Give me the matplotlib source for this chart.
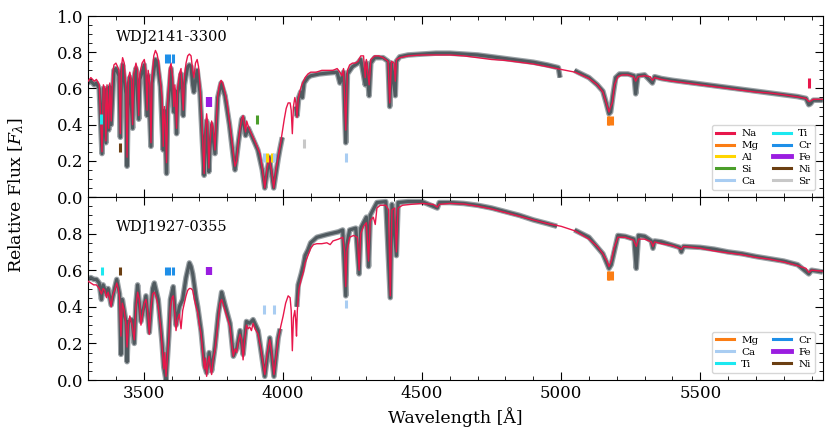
import numpy as np
import matplotlib
matplotlib.use("Agg")
import matplotlib.pyplot as plt
from matplotlib.lines import Line2D
from matplotlib.ticker import MultipleLocator

plt.rcParams['font.family'] = ['DejaVu Serif']
plt.rcParams['mathtext.fontset'] = 'dejavuserif'

nan = np.nan

wd2141_model = [
    (3300, 0.64), (3310, 0.66), (3322, 0.64), (3330, 0.65), (3340, 0.62), (3350, 0.25), (3355, 0.62),
    (3360, 0.60), (3364, 0.31), (3368, 0.62), (3374, 0.38), (3378, 0.63), (3383, 0.42), (3388, 0.68),
    (3393, 0.73), (3400, 0.74), (3406, 0.72), (3411, 0.70), (3416, 0.35), (3420, 0.72), (3424, 0.77),
    (3430, 0.74), (3436, 0.60), (3440, 0.22), (3445, 0.66), (3450, 0.69), (3456, 0.64), (3460, 0.40),
    (3464, 0.68), (3472, 0.74), (3478, 0.70), (3482, 0.45), (3486, 0.68), (3494, 0.74), (3502, 0.76),
    (3508, 0.70), (3512, 0.48), (3516, 0.70), (3522, 0.62), (3526, 0.30), (3530, 0.66), (3536, 0.78),
    (3542, 0.81), (3548, 0.79), (3554, 0.74), (3560, 0.64), (3566, 0.55), (3570, 0.28), (3574, 0.50),
    (3578, 0.40), (3582, 0.19), (3586, 0.52), (3592, 0.70), (3598, 0.74), (3604, 0.66), (3608, 0.50),
    (3612, 0.62), (3618, 0.38), (3622, 0.60), (3628, 0.68), (3634, 0.71), (3638, 0.58), (3642, 0.48),
    (3646, 0.66), (3652, 0.74), (3658, 0.78), (3664, 0.79), (3670, 0.78), (3676, 0.70), (3680, 0.66),
    (3686, 0.74), (3692, 0.76), (3697, 0.72), (3702, 0.62), (3707, 0.48), (3712, 0.30), (3717, 0.13),
    (3721, 0.36), (3726, 0.46), (3730, 0.40), (3734, 0.16), (3738, 0.30), (3744, 0.42), (3750, 0.38),
    (3756, 0.26), (3760, 0.40), (3766, 0.56), (3772, 0.62), (3778, 0.645), (3784, 0.63), (3792, 0.58),
    (3800, 0.52), (3808, 0.42), (3816, 0.32), (3822, 0.24), (3828, 0.17), (3834, 0.20), (3840, 0.30),
    (3846, 0.38), (3852, 0.43), (3857, 0.45), (3862, 0.40), (3866, 0.36), (3870, 0.42), (3876, 0.39),
    (3884, 0.36), (3893, 0.33), (3902, 0.30), (3910, 0.27), (3918, 0.24), (3926, 0.16), (3935, 0.05),
    (3943, 0.16), (3951, 0.215), (3959, 0.15), (3967, 0.05), (3975, 0.15), (3983, 0.22), (3990, 0.28),
    (3997, 0.35), (4005, 0.43), (4012, 0.49), (4019, 0.52), (4026, 0.52), (4030, 0.48), (4034, 0.35),
    (4038, 0.50), (4043, 0.55), (4047, 0.52), (4051, 0.44), (4055, 0.54), (4062, 0.59), (4068, 0.62),
    (4074, 0.64), (4080, 0.66), (4090, 0.68), (4100, 0.69), (4120, 0.69), (4140, 0.70), (4160, 0.70),
    (4180, 0.70), (4195, 0.71), (4205, 0.69), (4212, 0.67), (4218, 0.71), (4226, 0.37), (4232, 0.70),
    (4240, 0.73), (4250, 0.74), (4260, 0.74), (4270, 0.75), (4280, 0.78), (4290, 0.78), (4296, 0.66),
    (4300, 0.76), (4310, 0.62), (4316, 0.76), (4330, 0.78), (4345, 0.78), (4360, 0.77), (4378, 0.75),
    (4384, 0.52), (4390, 0.75), (4400, 0.74), (4404, 0.64), (4408, 0.76), (4420, 0.77), (4450, 0.78),
    (4500, 0.785), (4550, 0.785), (4600, 0.785), (4650, 0.78), (4700, 0.77), (4750, 0.76), (4800, 0.755),
    (4850, 0.745), (4900, 0.735), (4950, 0.72), (5000, 0.705), (5050, 0.69), (5100, 0.655), (5130, 0.62),
    (5150, 0.58), (5162, 0.52), (5172, 0.47), (5178, 0.50), (5184, 0.52), (5192, 0.62), (5204, 0.665),
    (5220, 0.675), (5240, 0.675), (5260, 0.665), (5268, 0.64), (5276, 0.665), (5300, 0.67), (5320, 0.665),
    (5328, 0.645), (5336, 0.66), (5360, 0.65), (5400, 0.64), (5450, 0.63), (5500, 0.62), (5550, 0.61),
    (5600, 0.60), (5650, 0.59), (5700, 0.58), (5750, 0.575), (5800, 0.565), (5850, 0.553), (5880, 0.545),
    (5890, 0.528), (5896, 0.53), (5906, 0.54), (5940, 0.54),
]
wd2141_obs = [
    (3300, 0.63), (3310, 0.64), (3322, 0.62), (3330, 0.63), (3340, 0.60), (3350, 0.24), (3355, 0.60),
    (3364, 0.30), (3368, 0.60), (3374, 0.37), (3378, 0.61), (3383, 0.40), (3393, 0.70), (3400, 0.71),
    (3411, 0.67), (3416, 0.33), (3420, 0.69), (3424, 0.73), (3436, 0.57), (3440, 0.17), (3445, 0.63),
    (3450, 0.66), (3460, 0.38), (3464, 0.65), (3472, 0.71), (3482, 0.43), (3486, 0.65), (3502, 0.73),
    (3512, 0.45), (3516, 0.67), (3526, 0.28), (3530, 0.63), (3542, 0.76), (3548, 0.75), (3560, 0.61),
    (3570, 0.26), (3574, 0.48), (3582, 0.13), (3586, 0.49), (3598, 0.71), (3608, 0.47), (3612, 0.59),
    (3618, 0.35), (3622, 0.57), (3634, 0.68), (3642, 0.45), (3646, 0.62), (3658, 0.72), (3664, 0.73),
    (3670, 0.72), (3676, 0.62), (3680, 0.58), (3692, 0.70), (3702, 0.58), (3712, 0.28), (3717, 0.12),
    (3721, 0.33), (3726, 0.42), (3734, 0.14), (3738, 0.27), (3744, 0.40), (3756, 0.24), (3766, 0.55),
    (3778, 0.63), (3792, 0.56), (3808, 0.40), (3822, 0.22), (3828, 0.15), (3840, 0.30), (3852, 0.43),
    (3857, 0.44), (3866, 0.34), (3876, 0.38), (3893, 0.32), (3910, 0.26), (3926, 0.15), (3935, 0.05),
    (3951, 0.22), (3967, 0.05), (3983, 0.21), (3990, 0.27), (3998, 0.33), (4000, nan), (4046, 0.50),
    (4051, 0.45), (4057, 0.55), (4064, 0.58), (4070, 0.55), (4076, 0.63), (4090, 0.66), (4100, 0.67),
    (4130, 0.68), (4160, 0.685), (4195, 0.69), (4205, 0.63), (4212, 0.66), (4218, 0.69), (4226, 0.30),
    (4232, 0.68), (4250, 0.72), (4270, 0.74), (4280, 0.76), (4296, 0.62), (4300, 0.74), (4310, 0.56),
    (4316, 0.74), (4330, 0.77), (4360, 0.77), (4378, 0.75), (4384, 0.50), (4390, 0.74), (4404, 0.56),
    (4408, 0.75), (4420, 0.775), (4450, 0.785), (4500, 0.79), (4550, 0.795), (4600, 0.795), (4650, 0.79),
    (4700, 0.785), (4750, 0.775), (4800, 0.765), (4850, 0.755), (4900, 0.745), (4950, 0.73), (4990, 0.715),
    (4996, 0.66), (4998, nan), (5048, 0.70), (5060, 0.69), (5100, 0.66), (5130, 0.62), (5150, 0.585),
    (5162, 0.52), (5172, 0.46), (5178, 0.47), (5186, 0.56), (5196, 0.66), (5210, 0.68), (5240, 0.68),
    (5262, 0.67), (5268, 0.57), (5276, 0.67), (5300, 0.675), (5328, 0.63), (5336, 0.665), (5360, 0.655),
    (5400, 0.645), (5450, 0.635), (5500, 0.625), (5550, 0.615), (5600, 0.605), (5650, 0.595), (5700, 0.585),
    (5750, 0.575), (5800, 0.565), (5850, 0.555), (5880, 0.545), (5890, 0.51), (5896, 0.515), (5906, 0.535),
    (5940, 0.535),
]

# ---- WDJ1927-0355
wd1927_model = [
    (3300, 0.54), (3310, 0.53), (3320, 0.52), (3330, 0.52), (3340, 0.50), (3348, 0.47), (3354, 0.50),
    (3360, 0.49), (3366, 0.45), (3372, 0.48), (3378, 0.44), (3383, 0.40), (3388, 0.46), (3395, 0.49),
    (3403, 0.53), (3408, 0.50), (3413, 0.45), (3418, 0.24), (3423, 0.42), (3430, 0.38), (3436, 0.30),
    (3440, 0.18), (3445, 0.30), (3450, 0.35), (3458, 0.30), (3466, 0.22), (3472, 0.40), (3478, 0.48),
    (3484, 0.44), (3490, 0.30), (3496, 0.36), (3502, 0.42), (3508, 0.44), (3514, 0.38), (3520, 0.25),
    (3526, 0.40), (3532, 0.47), (3538, 0.48), (3545, 0.45), (3552, 0.40), (3560, 0.30), (3566, 0.18),
    (3572, 0.06), (3576, 0.15), (3580, 0.02), (3585, 0.12), (3590, 0.22), (3596, 0.40), (3602, 0.45),
    (3606, 0.46), (3611, 0.38), (3616, 0.27), (3621, 0.33), (3628, 0.36), (3634, 0.28), (3640, 0.38),
    (3646, 0.42), (3652, 0.46), (3658, 0.49), (3664, 0.50), (3670, 0.50), (3676, 0.49), (3682, 0.44),
    (3688, 0.40), (3694, 0.37), (3700, 0.30), (3706, 0.25), (3712, 0.15), (3718, 0.06), (3722, 0.12),
    (3726, 0.02), (3731, 0.10), (3735, 0.13), (3740, 0.06), (3744, 0.03), (3750, 0.12), (3756, 0.16),
    (3762, 0.24), (3768, 0.33), (3774, 0.42), (3780, 0.44), (3786, 0.41), (3792, 0.38), (3798, 0.35),
    (3804, 0.32), (3810, 0.29), (3816, 0.20), (3822, 0.13), (3828, 0.17), (3834, 0.15), (3840, 0.21),
    (3846, 0.25), (3852, 0.22), (3857, 0.11), (3863, 0.22), (3869, 0.30), (3875, 0.28), (3881, 0.29),
    (3887, 0.27), (3893, 0.31), (3900, 0.28), (3911, 0.25), (3920, 0.18), (3928, 0.10), (3935, 0.03),
    (3943, 0.14), (3953, 0.22), (3960, 0.15), (3968, 0.03), (3975, 0.12), (3983, 0.22), (3992, 0.29),
    (4001, 0.35), (4010, 0.42), (4019, 0.46), (4026, 0.45), (4030, 0.38), (4034, 0.16), (4038, 0.34),
    (4043, 0.38), (4046, 0.33), (4049, 0.24), (4052, 0.38), (4058, 0.50), (4066, 0.55), (4074, 0.59),
    (4080, 0.64), (4090, 0.68), (4100, 0.72), (4110, 0.74), (4122, 0.745), (4140, 0.745), (4158, 0.75),
    (4170, 0.74), (4180, 0.76), (4200, 0.77), (4215, 0.78), (4222, 0.70), (4226, 0.51), (4230, 0.70),
    (4240, 0.78), (4254, 0.79), (4268, 0.78), (4274, 0.60), (4280, 0.80), (4290, 0.84), (4300, 0.86),
    (4308, 0.65), (4314, 0.87), (4325, 0.89), (4332, 0.85), (4338, 0.94), (4350, 0.955), (4370, 0.955),
    (4380, 0.93), (4386, 0.46), (4392, 0.93), (4402, 0.94), (4408, 0.70), (4414, 0.94), (4430, 0.955),
    (4460, 0.96), (4500, 0.965), (4540, 0.96), (4555, 0.945), (4562, 0.96), (4600, 0.965), (4650, 0.962),
    (4700, 0.95), (4750, 0.935), (4800, 0.915), (4850, 0.895), (4900, 0.875), (4950, 0.855), (5000, 0.84),
    (5050, 0.815), (5100, 0.77), (5130, 0.73), (5150, 0.69), (5165, 0.65), (5172, 0.62), (5180, 0.65),
    (5190, 0.72), (5204, 0.78), (5230, 0.78), (5260, 0.765), (5270, 0.73), (5278, 0.77), (5300, 0.77),
    (5324, 0.755), (5330, 0.73), (5336, 0.755), (5360, 0.745), (5400, 0.735), (5432, 0.715), (5440, 0.73),
    (5500, 0.72), (5550, 0.705), (5600, 0.695), (5650, 0.685), (5700, 0.67), (5750, 0.66), (5800, 0.645),
    (5850, 0.625), (5880, 0.61), (5890, 0.588), (5900, 0.60), (5940, 0.595),
]
wd1927_obs = [
    (3300, 0.55), (3310, 0.56), (3320, 0.55), (3330, 0.55), (3340, 0.53), (3348, 0.44), (3354, 0.52),
    (3366, 0.47), (3372, 0.50), (3383, 0.41), (3395, 0.50), (3403, 0.55), (3413, 0.47), (3418, 0.14),
    (3423, 0.44), (3436, 0.32), (3440, 0.10), (3445, 0.32), (3458, 0.33), (3466, 0.20), (3472, 0.42),
    (3478, 0.52), (3490, 0.32), (3508, 0.46), (3520, 0.26), (3532, 0.50), (3538, 0.53), (3552, 0.44),
    (3566, 0.20), (3572, 0.07), (3580, 0.0), (3590, 0.24), (3596, 0.44), (3606, 0.51), (3616, 0.30),
    (3628, 0.40), (3640, 0.44), (3652, 0.56), (3664, 0.64), (3670, 0.62), (3676, 0.58), (3688, 0.45),
    (3694, 0.40), (3706, 0.27), (3718, 0.08), (3726, 0.04), (3735, 0.15), (3744, 0.05), (3756, 0.18),
    (3768, 0.36), (3780, 0.48), (3792, 0.41), (3810, 0.31), (3822, 0.13), (3834, 0.17), (3846, 0.27),
    (3857, 0.14), (3869, 0.32), (3881, 0.31), (3893, 0.33), (3911, 0.27), (3935, 0.02), (3953, 0.23),
    (3968, 0.02), (3983, 0.23), (3990, 0.28), (3994, nan), (4050, 0.40), (4055, 0.52), (4066, 0.58),
    (4074, 0.63), (4080, 0.68), (4090, 0.71), (4100, 0.75), (4122, 0.78), (4158, 0.795), (4200, 0.81),
    (4215, 0.82), (4226, 0.46), (4230, 0.74), (4240, 0.82), (4262, 0.83), (4274, 0.58), (4280, 0.83),
    (4300, 0.89), (4308, 0.62), (4314, 0.90), (4338, 0.97), (4370, 0.975), (4386, 0.45), (4392, 0.96),
    (4408, 0.68), (4414, 0.97), (4450, 0.975), (4500, 0.975), (4555, 0.94), (4562, 0.97), (4600, 0.97),
    (4650, 0.965), (4700, 0.955), (4750, 0.94), (4800, 0.92), (4850, 0.90), (4900, 0.875), (4950, 0.855),
    (4985, 0.84), (4990, nan), (5048, 0.82), (5100, 0.78), (5150, 0.69), (5172, 0.61), (5180, 0.63),
    (5204, 0.79), (5230, 0.785), (5262, 0.77), (5270, 0.61), (5278, 0.79), (5300, 0.785), (5324, 0.76),
    (5330, 0.72), (5336, 0.76), (5360, 0.755), (5426, 0.725), (5432, 0.70), (5440, 0.73), (5500, 0.725),
    (5550, 0.715), (5600, 0.70), (5650, 0.69), (5700, 0.675), (5800, 0.65), (5850, 0.63), (5890, 0.58),
    (5900, 0.60), (5940, 0.59),
]

# ---- line identifications: element -> (wavelengths, ymin, ymax)
elem_colors = {
    'Na': '#e8174b', 'Mg': '#fb7d14', 'Al': '#ffd500', 'Si': '#4b9e2a', 'Ca': '#a9cdf2',
    'Ti': '#1ce8f0', 'Cr': '#1e8fe8', 'Fe': '#9a1de0', 'Ni': '#6b3f12', 'Sr': '#c8c8c8',
}
wd2141_lines = {
    'Na': ([5891.0], 0.60, 0.66),
    'Mg': ([5167.3, 5172.7, 5183.6], 0.40, 0.45),
    'Al': ([3944.0, 3961.5], 0.195, 0.245),
    'Si': ([3905.5], 0.405, 0.455),
    'Ca': ([3933.7, 3968.5, 4226.7], 0.195, 0.245),
    'Ti': ([3345.0], 0.405, 0.46),
    'Cr': ([3578.7, 3591.0, 3603.5], 0.74, 0.79),
    'Fe': ([3735.0], 0.50, 0.555),
    'Ni': ([3414.8], 0.25, 0.30),
    'Sr': ([4077.7], 0.27, 0.32),
}
wd1927_lines = {
    'Mg': ([5167.3, 5172.7, 5183.6], 0.545, 0.595),
    'Ca': ([3933.7, 3968.5], 0.36, 0.41),
    'Ca4227': ([4226.7], 0.395, 0.44),
    'Ti': ([3349.4], 0.575, 0.62),
    'Cr': ([3578.7, 3591.0, 3603.5], 0.575, 0.62),
    'Fe': ([3735.0], 0.575, 0.62),
    'Ni': ([3414.8], 0.575, 0.62),
}
wd2141_legend = ['Na', 'Mg', 'Al', 'Si', 'Ca', 'Ti', 'Cr', 'Fe', 'Ni', 'Sr']
wd1927_legend = ['Mg', 'Ca', 'Ti', 'Cr', 'Fe', 'Ni']

fig = plt.figure(figsize=(8.31, 4.34), dpi=100)
ax1 = fig.add_axes([0.106, 0.546, 0.884, 0.417])
ax2 = fig.add_axes([0.106, 0.1244, 0.884, 0.4216], sharex=ax1)


def draw_panel(ax, model, obs, lines, legend_order, name, name_y):
    ow, of = zip(*obs)
    mw, mf = zip(*model)
    ax.plot(ow, of, color='#9aa1a5', lw=4.0, solid_joinstyle='round', solid_capstyle='butt', zorder=1)
    ax.plot(ow, of, color='#505a5f', lw=2.3, solid_joinstyle='round', solid_capstyle='butt', zorder=2)
    ax.plot(mw, mf, color='#e8174b', lw=1.0, zorder=3)
    for key, (wls, y0, y1) in lines.items():
        el = key[:2]
        ax.vlines(wls, y0, y1, color=elem_colors[el], lw=4.5 if el == 'Fe' else 2.2, zorder=4)
    handles = [Line2D([], [], color=elem_colors[el], lw=3.5 if el == 'Fe' else 2.2) for el in legend_order]
    ax.legend(handles, legend_order, loc='lower right', ncol=2, fontsize=7.5, handlelength=1.75,
              labelspacing=0.25, columnspacing=1.35, borderpad=0.4, handletextpad=0.7,
              bbox_to_anchor=(0.997, 0.01))
    ax.text(0.038, name_y, name, transform=ax.transAxes, fontsize=10.5, va='center', ha='left')
    ax.set_ylim(0, 1.0)
    ax.yaxis.set_major_locator(MultipleLocator(0.2))
    ax.yaxis.set_minor_locator(MultipleLocator(0.05))
    ax.xaxis.set_major_locator(MultipleLocator(500))
    ax.xaxis.set_minor_locator(MultipleLocator(100))
    ax.tick_params(which='both', direction='in', top=True, right=True, labelsize=12)
    ax.tick_params(which='major', length=6)
    ax.tick_params(which='minor', length=3)


draw_panel(ax1, wd2141_model, wd2141_obs, wd2141_lines, wd2141_legend, 'WDJ2141-3300', 0.886)
draw_panel(ax2, wd1927_model, wd1927_obs, wd1927_lines, wd1927_legend, 'WDJ1927-0355', 0.838)

ax1.set_xlim(3300, 5940)
ax1.tick_params(labelbottom=False)
ax2.set_yticks([0.0, 0.2, 0.4, 0.6, 0.8, 1.0])
ax2.set_yticklabels(['0.0', '0.2', '0.4', '0.6', '0.8', ''])
ax2.set_xlabel('Wavelength [Å]', fontsize=12.5)
fig.text(0.02, 0.55, r'Relative Flux [$F_\lambda$]', rotation=90, fontsize=12.5, va='center', ha='center')

fig.savefig('out.png', dpi=100)
